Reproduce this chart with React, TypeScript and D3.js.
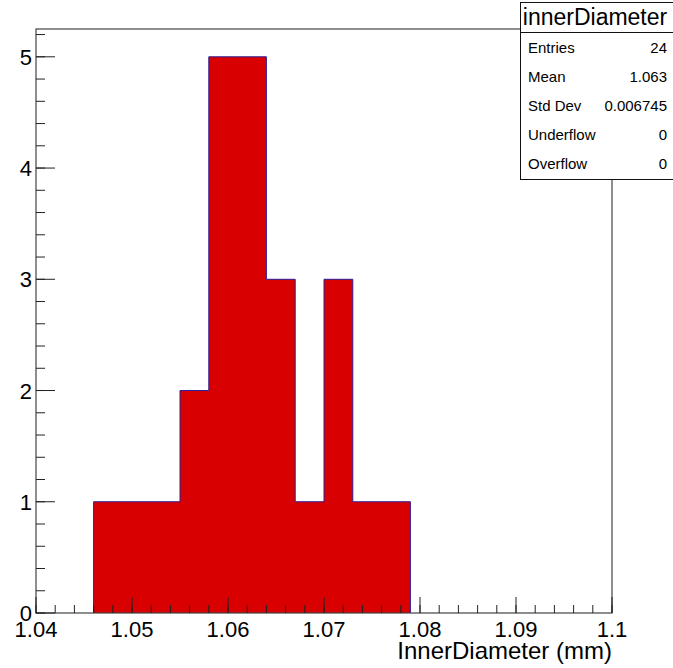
import React from 'react';
import * as d3 from 'd3';

// histogram bins (low edge of each bin) and their counts
const binLows = [1.046, 1.049, 1.052, 1.055, 1.058, 1.061, 1.064, 1.067, 1.07, 1.073, 1.076];
const binWidth = 0.003;
const counts = [1, 1, 1, 2, 5, 5, 3, 1, 3, 1, 1];

const xTickLabels = ['1.04', '1.05', '1.06', '1.07', '1.08', '1.09', '1.1'];
const yTickLabels = ['0', '1', '2', '3', '4', '5'];

const statNames = ['Entries', 'Mean', 'Std Dev', 'Underflow', 'Overflow'];
const statValues = ['24', '1.063', '0.006745', '0', '0'];

const W = 673;
const H = 668;
const frame = { left: 36, right: 612, top: 29, bottom: 613 };
const font = '"Liberation Sans", Arial, Helvetica, sans-serif';

const App = () => {
  const x = d3.scaleLinear().domain([1.04, 1.1]).range([frame.left, frame.right]);
  const y = d3.scaleLinear().domain([0, 5.25]).range([frame.bottom, frame.top]);

  // step outline of the histogram
  const pts: [number, number][] = [[x(binLows[0]), y(0)]];
  binLows.forEach((lo, i) => {
    pts.push([x(lo), y(counts[i])]);
    pts.push([x(lo + binWidth), y(counts[i])]);
  });
  pts.push([x(binLows[binLows.length - 1] + binWidth), y(0)]);
  const histPath = d3.line()(pts) || '';

  const xMajor = xTickLabels.map(Number);
  const xMinor = d3.range(0, 31).map(i => 1.04 + i * 0.002).filter(v => v <= 1.1 + 1e-9);
  const yMajor = yTickLabels.map(Number);
  const yMinor = d3.range(0, 27).map(i => i * 0.2).filter(v => v <= 5.25);

  return (
    <svg width={W} height={H} style={{ position: 'absolute', left: 0, top: 0, background: '#fff' }}
      fontFamily={font}>
      <rect x={0} y={0} width={W} height={H} fill="#fff" />

      {/* histogram */}
      <path d={histPath} fill="#d80000" stroke="#2a1f9a" strokeWidth={1} />

      {/* frame */}
      <rect x={frame.left} y={frame.top} width={frame.right - frame.left} height={frame.bottom - frame.top}
        fill="none" stroke="#444" strokeWidth={1.2} />

      {/* x ticks */}
      {xMinor.map((v, i) => (
        <line key={'xm' + i} x1={x(v)} x2={x(v)} y1={frame.bottom} y2={frame.bottom - 8} stroke="#222" strokeWidth={1} />
      ))}
      {xMajor.map((v, i) => (
        <line key={'xM' + i} x1={x(v)} x2={x(v)} y1={frame.bottom} y2={frame.bottom - 16} stroke="#222" strokeWidth={1} />
      ))}
      {xTickLabels.map((t, i) => (
        <text key={'xl' + i} x={x(xMajor[i])} y={637} fontSize={22} textAnchor="middle" fill="#000">{t}</text>
      ))}
      <text x={frame.right} y={659} fontSize={24} textAnchor="end" fill="#000">InnerDiameter (mm)</text>

      {/* y ticks */}
      {yMinor.map((v, i) => (
        <line key={'ym' + i} x1={frame.left} x2={frame.left + 9} y1={y(v)} y2={y(v)} stroke="#222" strokeWidth={1} />
      ))}
      {yMajor.map((v, i) => (
        <line key={'yM' + i} x1={frame.left} x2={frame.left + 19} y1={y(v)} y2={y(v)} stroke="#222" strokeWidth={1} />
      ))}
      {yTickLabels.map((t, i) => (
        <text key={'yl' + i} x={32} y={y(yMajor[i]) + 8} fontSize={22} textAnchor="end" fill="#000">{t}</text>
      ))}

      {/* stats box */}
      <rect x={520.5} y={2.5} width={170} height={177} fill="#fff" stroke="#111" strokeWidth={1} />
      <line x1={520.5} x2={673} y1={32.5} y2={32.5} stroke="#111" strokeWidth={1} />
      <text x={595} y={25} fontSize={23} textAnchor="middle" fill="#000">innerDiameter</text>
      {statNames.map((s, i) => (
        <g key={'st' + i}>
          <text x={528} y={53 + i * 29} fontSize={15} fill="#000">{s}</text>
          <text x={667} y={53 + i * 29} fontSize={15} textAnchor="end" fill="#000">{statValues[i]}</text>
        </g>
      ))}
    </svg>
  );
};

export default App;
